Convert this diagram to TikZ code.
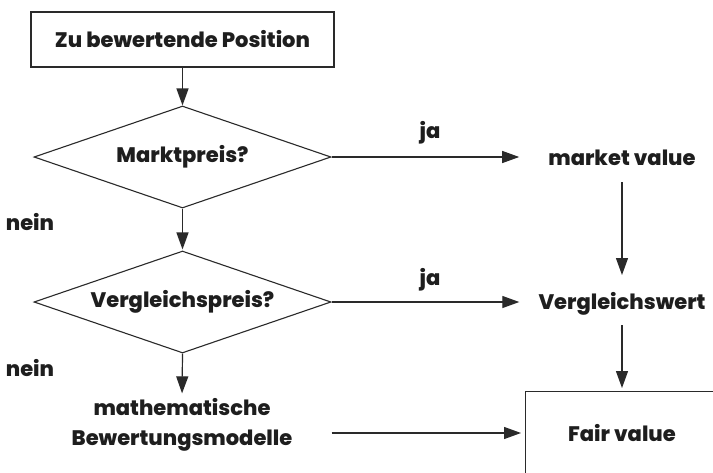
\documentclass[tikz,border=0pt]{standalone}
\usepackage{fontspec}
\setmainfont{Poppins}[BoldFont={Poppins ExtraBold}]
\usetikzlibrary{shapes.geometric,arrows.meta,calc}
\definecolor{ink}{HTML}{1E1E1E}
\definecolor{rule}{HTML}{2A2A2A}
\begin{document}
\begin{tikzpicture}[x=1pt,y=-1pt,
  every node/.style={font=\fontsize{21}{30}\selectfont\bfseries, text=ink},
  box/.style={draw=rule, line width=1.1pt, rectangle},
  decision/.style={draw=rule, line width=1.1pt, diamond, aspect=2.9,
    minimum width=297pt, minimum height=102pt, inner sep=0pt},
  arr/.style={draw=rule, line width=1.2pt, -{Triangle[length=17pt,width=12pt]}},
  tag/.style={inner sep=0pt}]
\useasboundingbox (0,0) rectangle (713,472);
\fill[white] (0,0) rectangle (713,472);

% left column: start, two decisions, models
\node[box, minimum width=303pt, minimum height=55pt] (pos) at (182.5,39.5) {Zu bewertende Position};
\node[decision] (markt) at (182.5,157) {Marktpreis?};
\node[decision] (vgl) at (182.5,302) {Vergleichspreis?};
\node[align=center, tag] (math) at (182,425) {mathematische\\Bewertungsmodelle};

% right column: results
\node[tag] (mv) at (622,158) {market value};
\node[tag] (vw) at (622,304) {Vergleichswert};
\node[box, anchor=north west, minimum width=230pt, minimum height=120pt] (fair) at (525,391) {};
\node[tag] (fv) at (622,433) {Fair value};

% branch labels
\node[tag] (ja1) at (430,133) {ja};
\node[tag] (ja2) at (430,280) {ja};
\node[tag] (nein1) at (30,222) {nein};
\node[tag] (nein2) at (30,368) {nein};

% connectors
\draw[arr] (pos) -- (markt.north);
\draw[arr, shorten >=1pt] (markt.south) -- (vgl.north);
\draw[arr, shorten >=5pt] (vgl.south) -- (math.north);
\draw[arr, shorten >=29pt] (markt.east) -- (mv.west |- markt.east);
\draw[arr, shorten >=19pt] (vgl.east) -- (vw.west |- vgl.east);
\draw[arr] ($(mv)+(0,24)$) -- ($(vw)+(0,-29)$);
\draw[arr, shorten >=3pt] ($(vw)+(0,21)$) -- (fair.north -| vw);
\draw[arr, shorten >=4pt] (vgl.east |- fv) -- (fair.west |- fv);
\end{tikzpicture}
\end{document}
